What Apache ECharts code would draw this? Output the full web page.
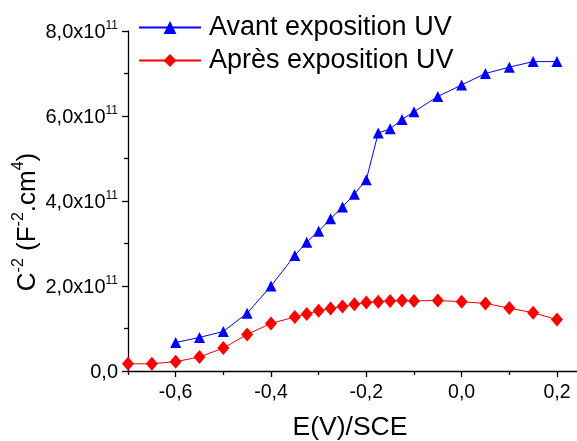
<!DOCTYPE html>
<html>
<head>
<meta charset="utf-8">
<script src="https://cdn.jsdelivr.net/npm/echarts@6/dist/echarts.min.js"></script>
<style>html,body{margin:0;padding:0;background:#fff}#c{width:577px;height:441px}</style>
</head>
<body>
<div id="c"></div>
<script>
// Potential E(V)/SCE
var xAvant = [-0.6,-0.55,-0.5,-0.45,-0.4,-0.35,-0.325,-0.3,-0.275,-0.25,-0.225,-0.2,-0.175,-0.15,-0.125,-0.1,-0.05,0,0.05,0.1,0.15,0.2];
// C^-2 values in units of 1e11
var yAvant = [0.67,0.79,0.93,1.36,2.0,2.72,3.03,3.29,3.58,3.86,4.16,4.5,5.6,5.7,5.92,6.1,6.46,6.73,7.0,7.15,7.28,7.28];
var xApres = [-0.7,-0.65,-0.6,-0.55,-0.5,-0.45,-0.4,-0.35,-0.325,-0.3,-0.275,-0.25,-0.225,-0.2,-0.175,-0.15,-0.125,-0.1,-0.05,0,0.05,0.1,0.15,0.2];
var yApres = [0.17,0.17,0.22,0.33,0.54,0.86,1.12,1.27,1.34,1.42,1.47,1.52,1.57,1.61,1.63,1.65,1.66,1.65,1.66,1.63,1.59,1.48,1.37,1.21];
var seriesNames = ['Avant exposition UV', 'Après exposition UV'];
var xMajorTicks = [-0.6,-0.4,-0.2,0,0.2];
var xMinorTicks = [-0.7,-0.5,-0.3,-0.1,0.1];

function pairs(xs, ys){ return xs.map(function(x,i){ return [x, ys[i]*1e11]; }); }
function fmtX(v){ return (Math.round(v*10)/10).toFixed(1).replace('.',','); }
function fmtY(v){
  if (v === 0) return '{b|0,0}';
  return '{b|' + (v/1e11).toFixed(1).replace('.',',') + 'x10}{s|11}';
}
var FONT = 'Liberation Sans, Arial, sans-serif';
var chart = echarts.init(document.getElementById('c'));
chart.setOption({
  animation: false,
  backgroundColor: '#fff',
  grid: {left: 128, top: 31, width: 448.5, height: 340, outerBoundsMode: 'none', containLabel: false},
  legend: {
    orient: 'vertical', left: 133, top: 9, itemWidth: 62, itemHeight: 16, itemGap: 6,
    data: seriesNames,
    textStyle: {fontFamily: FONT, fontSize: 27, color: '#000', padding: [0,0,0,3]}
  },
  xAxis: [{
    type: 'value', min: -0.7, max: 0.241, position: 'bottom',
    axisLine: {show: true, onZero: false, lineStyle: {color: '#000', width: 1.3}},
    axisTick: {show: true, inside: false, length: 6, customValues: xMajorTicks, lineStyle: {color: '#000', width: 1.3}},
    axisLabel: {customValues: xMajorTicks, formatter: fmtX, fontFamily: FONT, fontSize: 19.5, color: '#000', margin: 12},
    splitLine: {show: false}
  },{
    type: 'value', min: -0.7, max: 0.241, position: 'bottom', gridIndex: 0,
    axisLine: {show: false, onZero: false},
    axisTick: {show: true, inside: false, length: 4, customValues: xMinorTicks, lineStyle: {color: '#000', width: 1.3}},
    axisLabel: {show: false},
    splitLine: {show: false}
  }],
  yAxis: {
    type: 'value', min: 0, max: 8e11, interval: 2e11,
    axisLine: {show: true, onZero: false, lineStyle: {color: '#000', width: 1.3}},
    axisTick: {show: true, inside: false, length: 6, lineStyle: {color: '#000', width: 1.3}},
    minorTick: {show: true, splitNumber: 2, length: 4, lineStyle: {color: '#000', width: 1.3}},
    axisLabel: {
      formatter: fmtY, margin: 10,
      rich: {
        b: {fontFamily: FONT, fontSize: 20, color: '#000', lineHeight: 22, verticalAlign: 'bottom'},
        s: {fontFamily: FONT, fontSize: 12, color: '#000', lineHeight: 22, verticalAlign: 'top'}
      }
    },
    splitLine: {show: false}
  },
  graphic: [
    {
      type: 'text', x: 26, y: 222, rotation: Math.PI/2,
      style: {
        text: '{b|C}{s|-2}{b| (F}{s|-2}{b|.cm}{s|4}{b|)}',
        align: 'center', verticalAlign: 'middle',
        rich: {
          b: {fontFamily: FONT, fontSize: 26, fill: '#000', lineHeight: 30, verticalAlign: 'bottom'},
          s: {fontFamily: FONT, fontSize: 16, fill: '#000', lineHeight: 30, verticalAlign: 'top'}
        }
      }
    },
    {
      type: 'text', x: 350, y: 428,
      style: {text: 'E(V)/SCE', align: 'center', verticalAlign: 'middle', fontFamily: FONT, fontSize: 26.5, fill: '#000'}
    }
  ],
  series: [{
    name: seriesNames[0], type: 'line', xAxisIndex: 0,
    data: pairs(xAvant, yAvant),
    symbol: 'triangle', symbolSize: 11,
    itemStyle: {color: '#0000ff'}, lineStyle: {color: '#0000ff', width: 1}
  },{
    name: seriesNames[1], type: 'line', xAxisIndex: 0,
    data: pairs(xApres, yApres),
    symbol: 'diamond', symbolSize: [12,14],
    itemStyle: {color: '#ff0000'}, lineStyle: {color: '#ff0000', width: 1}
  }]
});
</script>
</body>
</html>
